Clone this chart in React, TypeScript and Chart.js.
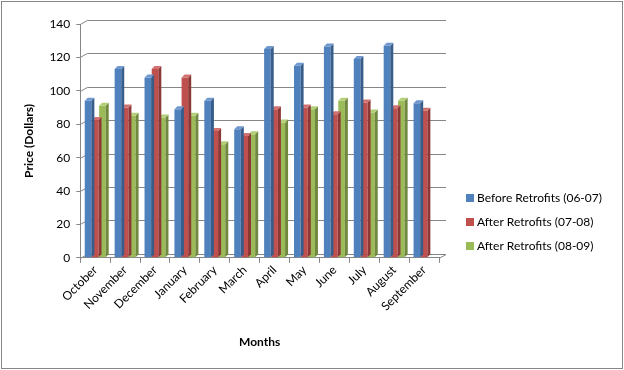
import React, { useEffect, useRef } from 'react';
import { Chart, registerables } from 'chart.js';

Chart.register(...registerables);

const categories = ['October', 'November', 'December', 'January', 'February', 'March', 'April', 'May', 'June', 'July', 'August', 'September'];
const seriesLabels = ['Before Retrofits (06-07)', 'After Retrofits (07-08)', 'After Retrofits (08-09)'];
const before0607 = [94, 113, 108, 89, 94, 77, 125, 115, 126.5, 119, 127, 92.5];
const after0708 = [82.5, 90, 113, 108, 76, 73, 89, 90, 86, 93, 89.5, 88];
const after0809 = [91, 85, 84, 85, 68, 74, 81, 89, 94, 87, 94, null];
const yTicks = [0, 20, 40, 60, 80, 100, 120, 140];

const COLORS = ['#4F81BD', '#C0504D', '#9BBB59'];
const SIDE = ['#385D8A', '#8C3836', '#71893F'];
const TOP = ['#6E98CF', '#D2716F', '#B2CF78'];
const FONT = 'Lato, "Open Sans", sans-serif';
const GRID = '#868686';
const DEPTH = 3;
const WALL_DX = 7;
const WALL_DY = 4;

const wallPlugin = {
  id: 'wall3d',
  beforeDatasetsDraw(chart: any) {
    const ctx = chart.ctx;
    const { left, right, bottom } = chart.chartArea;
    const y = chart.scales.y;
    ctx.save();
    ctx.strokeStyle = GRID;
    ctx.lineWidth = 1;
    y.ticks.forEach((t: any) => {
      const py = Math.round(y.getPixelForValue(t.value)) + 0.5;
      ctx.beginPath();
      ctx.moveTo(left, py);
      ctx.lineTo(left + WALL_DX, py - WALL_DY);
      ctx.lineTo(right + WALL_DX, py - WALL_DY);
      ctx.stroke();
    });
    const pb = Math.round(bottom) + 0.5;
    ctx.beginPath();
    ctx.moveTo(right, pb);
    ctx.lineTo(right + WALL_DX, pb - WALL_DY);
    ctx.stroke();
    ctx.restore();
  },
};

const depthPlugin = {
  id: 'depth3d',
  afterDatasetDraw(chart: any, args: any) {
    const i = args.index;
    const meta = chart.getDatasetMeta(i);
    const ctx = chart.ctx;
    ctx.save();
    meta.data.forEach((bar: any, j: number) => {
      const v = chart.data.datasets[i].data[j];
      if (v === null || v === undefined) return;
      const p = bar.getProps(['x', 'y', 'base', 'width'], true);
      const l = p.x - p.width / 2;
      const r = p.x + p.width / 2;
      ctx.fillStyle = SIDE[i];
      ctx.beginPath();
      ctx.moveTo(r, p.y);
      ctx.lineTo(r + DEPTH, p.y - DEPTH);
      ctx.lineTo(r + DEPTH, p.base - DEPTH);
      ctx.lineTo(r, p.base);
      ctx.closePath();
      ctx.fill();
      ctx.fillStyle = TOP[i];
      ctx.beginPath();
      ctx.moveTo(l, p.y);
      ctx.lineTo(l + DEPTH, p.y - DEPTH);
      ctx.lineTo(r + DEPTH, p.y - DEPTH);
      ctx.lineTo(r, p.y);
      ctx.closePath();
      ctx.fill();
    });
    ctx.restore();
  },
};

const legendPlugin = {
  id: 'customLegend',
  afterDraw(chart: any) {
    const ctx = chart.ctx;
    ctx.save();
    ctx.font = '12px ' + FONT;
    ctx.textBaseline = 'middle';
    ctx.textAlign = 'left';
    chart.data.datasets.forEach((ds: any, i: number) => {
      const y = 198 + i * 24;
      ctx.fillStyle = COLORS[i];
      ctx.fillRect(466, y - 4, 8, 8);
      ctx.fillStyle = '#000';
      ctx.fillText(ds.label, 477, y);
    });
    ctx.restore();
  },
};

const borderPlugin = {
  id: 'outerBorder',
  beforeDraw(chart: any) {
    const ctx = chart.ctx;
    ctx.save();
    ctx.fillStyle = '#fff';
    ctx.fillRect(0, 0, chart.width, chart.height);
    ctx.strokeStyle = GRID;
    ctx.lineWidth = 1;
    ctx.strokeRect(1.5, 1.5, chart.width - 3, chart.height - 3);
    ctx.restore();
  },
};

export default function App() {
  const ref = useRef<HTMLCanvasElement>(null);
  useEffect(() => {
    if (!ref.current) return;
    const chart = new Chart(ref.current, {
      type: 'bar',
      data: {
        labels: categories,
        datasets: [before0607, after0708, after0809].map((d, i) => ({
          label: seriesLabels[i],
          data: d,
          backgroundColor: COLORS[i],
          borderWidth: 0,
          categoryPercentage: 0.72,
          barPercentage: 0.92,
        })),
      },
      options: {
        responsive: false,
        animation: false,
        layout: { padding: { left: 18, top: 24, right: 185, bottom: 17 } },
        plugins: {
          legend: { display: false },
          tooltip: { enabled: false },
        },
        scales: {
          x: {
            offset: true,
            grid: { display: true, drawOnChartArea: false, drawTicks: true, tickLength: 5, color: GRID, offset: true },
            border: { color: GRID },
            ticks: { minRotation: 45, maxRotation: 45, color: '#000', font: { family: FONT, size: 12 }, padding: 0 },
            title: { display: true, text: 'Months', color: '#000', font: { family: FONT, size: 12, weight: 'bold' }, padding: { top: 21 } },
          },
          y: {
            min: 0,
            max: 140,
            afterBuildTicks: (axis: any) => {
              axis.ticks = yTicks.map((v) => ({ value: v }));
            },
            grid: { color: GRID, tickLength: 4, drawOnChartArea: false, drawTicks: true },
            border: { color: GRID },
            ticks: { color: '#000', font: { family: FONT, size: 12 }, padding: 6 },
            title: { display: true, text: 'Price (Dollars)', color: '#000', font: { family: FONT, size: 12, weight: 'bold' }, padding: { top: 4, bottom: 7 } },
          },
        },
      },
      plugins: [borderPlugin, wallPlugin, depthPlugin, legendPlugin],
    });
    return () => chart.destroy();
  }, []);
  return (
    <div style={{ position: 'absolute', left: 0, top: 0, width: 624, height: 370 }}>
      <canvas ref={ref} width={624} height={370} style={{ display: 'block' }} />
    </div>
  );
}
